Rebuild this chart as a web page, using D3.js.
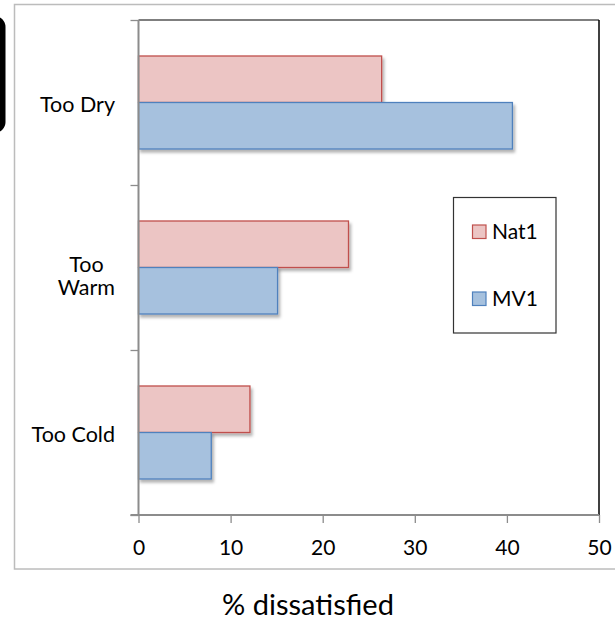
<!DOCTYPE html>
<html>
<head>
<meta charset="utf-8">
<script src="https://cdn.jsdelivr.net/npm/d3@7"></script>
<style>
  html, body { margin: 0; padding: 0; background: #fff; }
  svg { display: block; }
  text { font-family: Lato, "Open Sans", sans-serif; fill: #000; }
</style>
</head>
<body>
<svg id="chart" width="615" height="623"></svg>
<script>
const categories = ["Too Dry", "Too Warm", "Too Cold"];
const categoryLines = [["Too Dry"], ["Too", "Warm"], ["Too Cold"]];
const seriesNames = ["Nat1", "MV1"];
const nat1Values = [26.4, 22.8, 12.1];
const mv1Values = [40.6, 15.1, 7.9];
const xTicks = [0, 10, 20, 30, 40, 50];
const axisTitle = "% dissatisfied";

(function () {
const seriesValues = [nat1Values, mv1Values];
const fills = ["#ecc5c4", "#a6c1de"];
const strokes = ["#c0504d", "#4f81bd"];

const svg = d3.select("#chart");

// defs: drop shadow
const defs = svg.append("defs");
const f = defs.append("filter").attr("id", "shadow")
  .attr("x", "-5%").attr("y", "-20%").attr("width", "115%").attr("height", "150%");
f.append("feDropShadow").attr("dx", 2).attr("dy", 3).attr("stdDeviation", 1.8)
  .attr("flood-color", "#000").attr("flood-opacity", 0.3);

// partially visible black rounded shape at left
svg.append("rect").attr("x", -30).attr("y", 16).attr("width", 35.5).attr("height", 117)
  .attr("rx", 11).attr("fill", "#000");

// outer chart border
svg.append("rect").attr("x", 14.5).attr("y", 4.5).attr("width", 620).attr("height", 564.5)
  .attr("fill", "#fff").attr("stroke", "#bcbcbc").attr("stroke-width", 1.5);

const pL = 138.5, pR = 599, pT = 20, pB = 515;

const x = d3.scaleLinear().domain([0, 50]).range([pL, pR]);
const y0 = d3.scaleBand().domain(categories).range([pT, pB]).padding(0);
const y1 = d3.scaleBand().domain(seriesNames).range([0, y0.bandwidth()])
  .paddingInner(0).paddingOuter(0.774);

// plot area border (top, right)
svg.append("line").attr("x1", pL).attr("x2", pR).attr("y1", pT).attr("y2", pT)
  .attr("stroke", "#555").attr("stroke-width", 1.5);
svg.append("line").attr("x1", pR).attr("x2", pR).attr("y1", pT).attr("y2", pB)
  .attr("stroke", "#000").attr("stroke-width", 1.5);

// bars
const groups = svg.append("g").selectAll("g")
  .data(categories).join("g")
  .attr("transform", d => `translate(0,${y0(d)})`);

groups.selectAll("rect")
  .data((c, i) => seriesNames.map((s, j) => ({ s, j, v: seriesValues[j][i] })))
  .join("rect")
  .attr("x", x(0))
  .attr("y", d => y1(d.s))
  .attr("width", d => x(d.v) - x(0))
  .attr("height", y1.bandwidth())
  .attr("fill", d => fills[d.j])
  .attr("stroke", d => strokes[d.j])
  .attr("stroke-width", 1.3)
  .attr("filter", "url(#shadow)");

// x axis
const xAxis = d3.axisBottom(x).tickValues(xTicks).tickSize(8).tickPadding(17)
  .tickFormat(d3.format("d"));
const gx = svg.append("g").attr("transform", `translate(0,${pB})`).call(xAxis);
gx.select(".domain").attr("d", `M${pL - 8},0H${pR}`).attr("stroke", "#8c8c8c").attr("stroke-width", 1.8);
gx.selectAll(".tick line").attr("stroke", "#8c8c8c").attr("stroke-width", 1.3);
gx.selectAll(".tick text").style("font-family", "Lato, 'Open Sans', sans-serif")
  .style("font-size", "21px").attr("fill", "#000");

// y axis with ticks at band boundaries
const yBoundaries = d3.scaleLinear().domain([0, categories.length]).range([pT, pB]);
const yAxis = d3.axisLeft(yBoundaries).tickValues(d3.range(categories.length + 1))
  .tickSize(8).tickFormat("");
const gy = svg.append("g").attr("transform", `translate(${pL},0)`).call(yAxis);
gy.select(".domain").attr("d", `M0,${pT}V${pB}`).attr("stroke", "#8c8c8c").attr("stroke-width", 2);
gy.selectAll(".tick line").attr("stroke", "#8c8c8c").attr("stroke-width", 1.3);

// category labels (one text per category, wrapped with tspans)
const labelRight = 115;
const lineH = 23;
categories.forEach((c, i) => {
  const lines = categoryLines[i];
  const n = lines.length;
  const cy = y0(c) + y0.bandwidth() / 2 + 2 + 6.7 * (n - 1);
  const t = svg.append("text")
    .attr("text-anchor", "middle")
    .style("font-size", "21.5px");
  const spans = lines.map((ln, k) => t.append("tspan")
    .attr("y", cy + (k - (n - 1) / 2) * lineH)
    .attr("dy", "0.35em")
    .text(ln));
  const maxW = d3.max(spans, s => s.node().getComputedTextLength());
  spans.forEach(s => s.attr("x", labelRight - maxW / 2));
});

// legend
const lg = svg.append("g");
lg.append("rect").attr("x", 453.5).attr("y", 197.5).attr("width", 102.5).attr("height", 135.5)
  .attr("fill", "#fff").attr("stroke", "#333").attr("stroke-width", 1.2);
const legendY = [232, 299];
seriesNames.forEach((s, j) => {
  lg.append("rect").attr("x", 472.5).attr("y", legendY[j] - 7).attr("width", 13.5).attr("height", 13.5)
    .attr("fill", fills[j]).attr("stroke", strokes[j]).attr("stroke-width", 1.2);
  lg.append("text").attr("x", 492).attr("y", legendY[j]).attr("dy", "0.35em")
    .style("font-size", "21px").text(s);
});

// axis title
svg.append("text").attr("x", 308).attr("y", 615).attr("text-anchor", "middle")
  .style("font-size", "29px").text(axisTitle);
})();
</script>
</body>
</html>
